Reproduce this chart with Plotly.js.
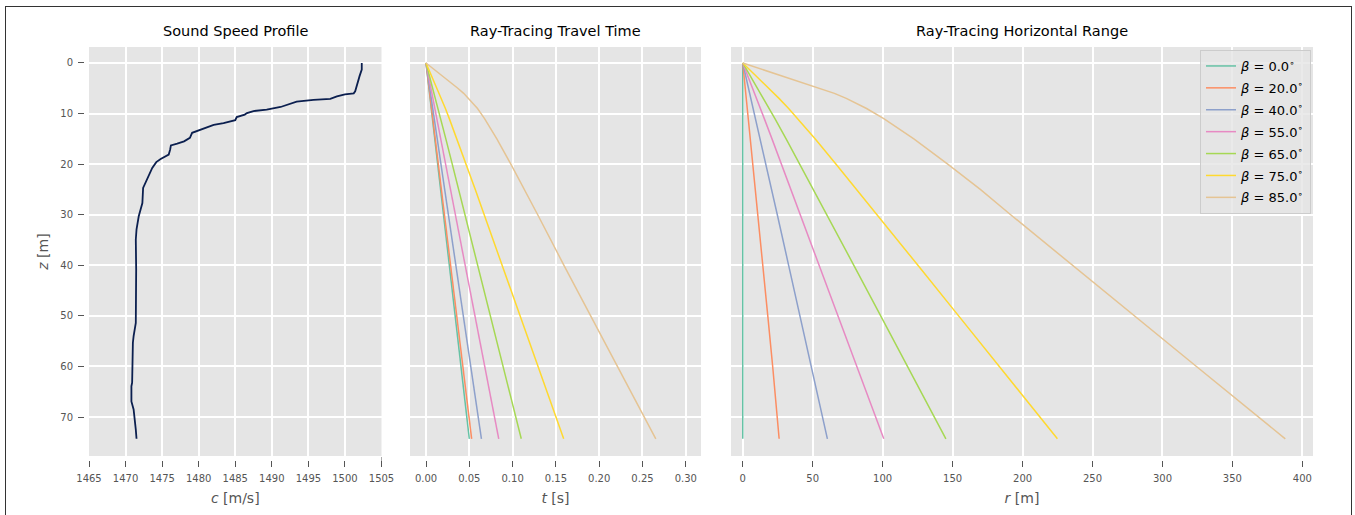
<!DOCTYPE html>
<html><head><meta charset="utf-8">
<script src="https://cdn.plot.ly/plotly-3.0.1.min.js"></script>
<style>
html,body{margin:0;padding:0;background:#fff;overflow:hidden;}
#chart{width:1355px;height:515px;}
#frame{position:absolute;left:5px;top:6px;width:1345px;height:530px;border:1px solid #333;pointer-events:none;}
</style>
</head><body>
<div id="chart"></div><div id="frame"></div>
<script>
// Sound speed profile (c in m/s vs depth z in m)
var profileDepth = [0, 1.3, 2.6, 4.0, 5.6, 6.0, 6.2, 6.6, 7.1, 7.3, 7.65, 8.7, 9.2, 9.5, 9.9, 10.2, 10.7, 11.3, 11.9, 12.25, 12.9, 13.8, 14.8, 15.5, 15.95, 16.3, 17.1, 18.1, 19.0, 19.6, 20.75, 22.7, 24.7, 27.7, 29.3, 30.3, 32.9, 34.9, 40.85, 51.4, 54.0, 55.3, 63.2, 63.9, 66.9, 68.5, 72.5, 74.3];
var profileSpeed = [1502.3, 1502.3, 1502.0, 1501.7, 1501.4, 1501.2, 1500.0, 1498.9, 1498.0, 1495.7, 1493.4, 1491.2, 1489.3, 1487.5, 1486.6, 1486.3, 1485.2, 1485.0, 1483.4, 1482.05, 1480.7, 1479.1, 1478.8, 1478.0, 1477.06, 1476.2, 1476.1, 1475.9, 1474.8, 1474.2, 1473.65, 1473.0, 1472.4, 1472.3, 1472.05, 1471.8, 1471.5, 1471.4, 1471.45, 1471.4, 1471.1, 1471.0, 1470.9, 1470.8, 1470.8, 1471.1, 1471.4, 1471.5];

// Ray depths and launch angles
var rayDepth = [0, 3, 5, 6, 7, 9, 11, 15, 20, 25, 30, 40, 50, 60, 74.3];
var betaLabels = ["0.0", "20.0", "40.0", "55.0", "65.0", "75.0", "85.0"];
var rayColors = ["#66c2a5", "#fc8d62", "#8da0cb", "#e78ac3", "#a6d854", "#ffd92f", "#e5c494"];

// Travel time t [s] per ray
var t0  = [0, 0.0020, 0.0034, 0.0040, 0.0047, 0.0061, 0.0074, 0.0101, 0.0135, 0.0169, 0.0202, 0.0269, 0.0337, 0.0404, 0.0500];
var t20 = [0, 0.0021, 0.0035, 0.0042, 0.0050, 0.0064, 0.0078, 0.0106, 0.0142, 0.0177, 0.0213, 0.0284, 0.0355, 0.0426, 0.0527];
var t40 = [0, 0.0026, 0.0043, 0.0052, 0.0060, 0.0078, 0.0095, 0.0129, 0.0172, 0.0216, 0.0259, 0.0345, 0.0431, 0.0517, 0.0640];
var t55 = [0, 0.0034, 0.0057, 0.0068, 0.0079, 0.0102, 0.0124, 0.0170, 0.0226, 0.0283, 0.0339, 0.0452, 0.0565, 0.0678, 0.0840];
var t65 = [0, 0.0047, 0.0078, 0.0093, 0.0109, 0.0140, 0.0171, 0.0229, 0.0303, 0.0376, 0.0450, 0.0596, 0.0743, 0.0890, 0.1100];
var t75 = [0, 0.0076, 0.0127, 0.0152, 0.0177, 0.0224, 0.0269, 0.0357, 0.0464, 0.0569, 0.0672, 0.0879, 0.1087, 0.1294, 0.1590];
var t85 = [0, 0.0225, 0.0367, 0.0435, 0.0492, 0.0595, 0.0676, 0.0818, 0.0980, 0.1136, 0.1290, 0.1593, 0.1900, 0.2210, 0.2654];

// Horizontal range r [m] per ray
var r0  = [0, 0, 0, 0, 0, 0, 0, 0, 0, 0, 0, 0, 0, 0, 0];
var r20 = [0, 1.1, 1.8, 2.2, 2.5, 3.3, 4.0, 5.4, 7.2, 9.0, 10.8, 14.3, 17.9, 21.4, 26.0];
var r40 = [0, 2.5, 4.2, 5.0, 5.9, 7.6, 9.2, 12.5, 16.6, 20.7, 24.7, 32.8, 40.9, 49.0, 60.5];
var r55 = [0, 4.3, 7.1, 8.5, 9.9, 12.7, 15.4, 20.9, 27.6, 34.4, 41.1, 54.6, 68.0, 81.4, 100.8];
var r65 = [0, 6.4, 10.7, 12.8, 14.9, 19.0, 23.0, 31.0, 40.8, 50.5, 60.2, 79.4, 98.6, 117.8, 145.2];
var r75 = [0, 11.2, 18.6, 22.3, 25.9, 32.8, 39.2, 51.7, 66.7, 81.5, 96.1, 125.2, 154.3, 183.4, 224.9];
var r85 = [0, 33, 55, 65.5, 74, 88.5, 100.8, 122.3, 146.5, 169.8, 191.5, 235.5, 280, 324.3, 387.8];

var travelTimes = [t0, t20, t40, t55, t65, t75, t85];
var ranges = [r0, r20, r40, r55, r65, r75, r85];

var cTicks = [1465, 1470, 1475, 1480, 1485, 1490, 1495, 1500, 1505];
var tTicks = [0, 0.05, 0.10, 0.15, 0.20, 0.25, 0.30];
var rTicks = [0, 50, 100, 150, 200, 250, 300, 350, 400];
var zTicks = [0, 10, 20, 30, 40, 50, 60, 70];

var traces = [];
traces.push({x: profileSpeed, y: profileDepth, xaxis: 'x', yaxis: 'y', mode: 'lines',
  line: {color: '#0b1f4f', width: 1.8}, showlegend: false});
for (var i = 0; i < betaLabels.length; i++) {
  traces.push({x: travelTimes[i], y: rayDepth, xaxis: 'x2', yaxis: 'y2', mode: 'lines',
    line: {color: rayColors[i], width: 1.5}, showlegend: false, legendgroup: 'b' + i});
}
for (var i = 0; i < betaLabels.length; i++) {
  traces.push({x: ranges[i], y: rayDepth, xaxis: 'x3', yaxis: 'y3', mode: 'lines',
    line: {color: rayColors[i], width: 1.5}, legendgroup: 'b' + i,
    name: '<i>β</i> = ' + betaLabels[i] + '<sup>∘</sup>'});
}

var W = 1355, H = 515, ML = 89, MR = 42, MT = 47, MB = 59;
var PW = W - ML - MR, PH = H - MT - MB;
function px(x) { return (x - ML) / PW; }

var tickFont = {family: 'DejaVu Sans', size: 10, color: '#555555'};
var titleFont = {family: 'DejaVu Sans', size: 14, color: '#555555'};
var yRange = [77.7, -3.16];

function xax(dom, range, ticks, fmt, title, anchor) {
  return {domain: dom, range: range, tickvals: ticks, tickformat: fmt, showgrid: true,
    gridcolor: '#ffffff', gridwidth: 2, zeroline: false, showline: false,
    ticks: 'outside', ticklen: 10, tickwidth: 1, tickcolor: '#555555', tickfont: tickFont,
    ticklabelstandoff: 3, anchor: anchor,
    title: {text: title, font: titleFont, standoff: 10}, automargin: false, fixedrange: true};
}
function yax(anchor, showLabels) {
  var a = {domain: [0, 1], range: yRange, tickvals: zTicks, showgrid: true, gridcolor: '#ffffff',
    gridwidth: 2, zeroline: false, showline: false, anchor: anchor, automargin: false, fixedrange: true,
    tickfont: tickFont};
  if (showLabels) {
    a.ticks = 'outside'; a.ticklen = 10; a.tickwidth = 1; a.tickcolor = '#555555';
    a.ticklabelstandoff = 3;
    a.title = {text: '<i>z</i> [m]', font: titleFont, standoff: 8};
  } else {
    a.ticks = ''; a.showticklabels = false;
  }
  return a;
}

var d1 = [0, px(381.5)], d2 = [px(410), px(701)], d3 = [px(731), 1];

var gapY = 5 / PH, gapX = 5 / PW;
function cover(x0, x1, y0, y1) {
  return {type: 'rect', xref: 'paper', yref: 'paper', x0: x0, x1: x1, y0: y0, y1: y1,
    fillcolor: '#ffffff', line: {width: 0}, layer: 'above'};
}
var shapes = [
  cover(d1[0], d1[1], -gapY, 0), cover(d2[0], d2[1], -gapY, 0), cover(d3[0], d3[1], -gapY, 0),
  cover(-gapX, 0, 0, 1)
];

var headFont = {family: 'DejaVu Sans', size: 14.5, color: '#000000'};
var titleY = (H - MB - 31) / PH;
var annotations = [
  {text: 'Sound Speed Profile', x: (d1[0] + d1[1]) / 2, y: titleY},
  {text: 'Ray-Tracing Travel Time', x: (d2[0] + d2[1]) / 2, y: titleY},
  {text: 'Ray-Tracing Horizontal Range', x: (d3[0] + d3[1]) / 2, y: titleY}
].map(function (a) {
  a.xref = 'paper'; a.yref = 'paper'; a.showarrow = false; a.font = headFont;
  a.xanchor = 'center'; a.yanchor = 'middle'; return a;
});

var layout = {
  width: W, height: H,
  margin: {l: ML, r: MR, t: MT, b: MB, pad: 0},
  paper_bgcolor: '#ffffff', plot_bgcolor: '#e5e5e5',
  font: {family: 'DejaVu Sans', color: '#555555'},
  xaxis: xax(d1, [1465, 1505], cTicks, 'd', '<i>c</i> [m/s]', 'y'),
  xaxis2: xax(d2, [-0.0185, 0.3176], tTicks, '.2f', '<i>t</i> [s]', 'y2'),
  xaxis3: xax(d3, [-8.4, 407.6], rTicks, 'd', '<i>r</i> [m]', 'y3'),
  yaxis: yax('x', true), yaxis2: yax('x2', false), yaxis3: yax('x3', false),
  showlegend: true,
  legend: {x: px(1200), y: (H - MB - 50) / PH, xanchor: 'left', yanchor: 'top',
    bgcolor: 'rgba(229,229,229,0.8)', bordercolor: '#cccccc', borderwidth: 1,
    font: {family: 'DejaVu Sans', size: 13, color: '#000000'}, tracegroupgap: 2},
  shapes: shapes,
  annotations: annotations,
  hovermode: false
};

Plotly.newPlot('chart', traces, layout, {displayModeBar: false, staticPlot: true});
</script>
</body></html>
